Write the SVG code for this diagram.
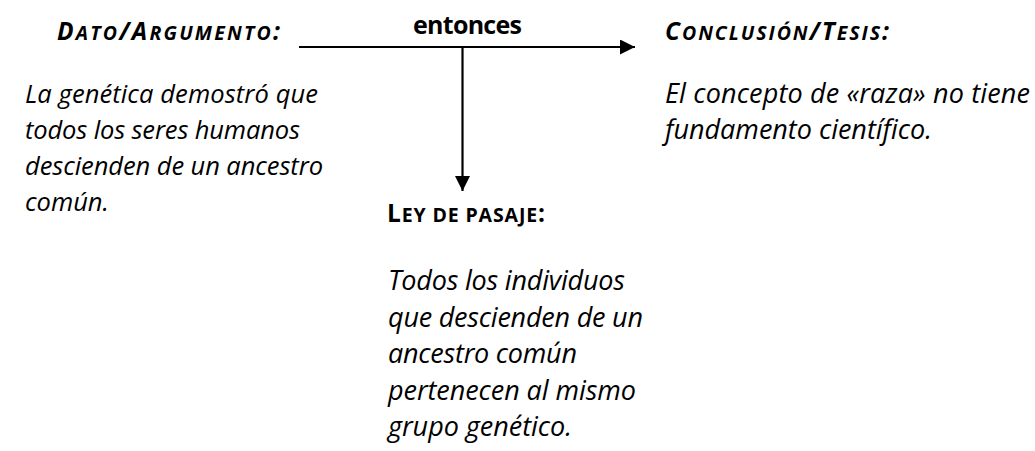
<svg xmlns="http://www.w3.org/2000/svg" width="1035" height="451" viewBox="0 0 1035 451">
<style>
text{font-family:"Open Sans","Noto Sans","Liberation Sans",sans-serif;fill:#000}
.body{font-style:italic}
.l{font-size:25.5px}
.r{font-size:27px}
.p{font-size:27px}
.head{font-size:24.5px;font-weight:bold;font-style:italic}
.sc{font-size:19.5px}
.ley{font-size:24.5px;font-weight:bold}
.ent{font-size:25px;font-weight:bold}
.ln{stroke:#000;stroke-width:2.2;fill:none}
</style>
<defs>
<marker id="ah" viewBox="0 0 10 10" refX="10" refY="5" markerWidth="17" markerHeight="15" markerUnits="userSpaceOnUse" orient="auto">
<path d="M0,0 L10,5 L0,10 z" fill="#000"/>
</marker>
</defs>
<rect width="1035" height="451" fill="#fff"/>
<g id="connectors">
<line class="ln" x1="299" y1="47" x2="635" y2="47" marker-end="url(#ah)"/>
<line class="ln" x1="462.5" y1="47" x2="462.5" y2="191" marker-end="url(#ah)"/>
<text class="ent" x="467.5" y="34" text-anchor="middle" textLength="109" lengthAdjust="spacing">entonces</text>
</g>
<g id="dato">
<text class="head" x="57" y="40" textLength="223" lengthAdjust="spacing">D<tspan class="sc">ATO</tspan>/A<tspan class="sc">RGUMENTO</tspan>:</text>
<text class="body l" x="25" y="103" textLength="293" lengthAdjust="spacing">La genética demostró que</text>
<text class="body l" x="25" y="139" textLength="275" lengthAdjust="spacing">todos los seres humanos</text>
<text class="body l" x="25" y="175" textLength="298" lengthAdjust="spacing">descienden de un ancestro</text>
<text class="body l" x="25" y="211">común.</text>
</g>
<g id="conclusion">
<text class="head" x="665" y="40" textLength="224" lengthAdjust="spacing">C<tspan class="sc">ONCLUSIÓN</tspan>/T<tspan class="sc">ESIS</tspan>:</text>
<text class="body r" x="665" y="103" textLength="365" lengthAdjust="spacing">El concepto de «raza» no tiene</text>
<text class="body r" x="665" y="139" textLength="267" lengthAdjust="spacing">fundamento científico.</text>
</g>
<g id="ley">
<text class="ley" x="387" y="222" textLength="158" lengthAdjust="spacing">L<tspan class="sc">EY DE PASAJE</tspan>:</text>
<text class="body p" x="388" y="290" textLength="237" lengthAdjust="spacing">Todos los individuos</text>
<text class="body p" x="388" y="326.5" textLength="255" lengthAdjust="spacing">que descienden de un</text>
<text class="body p" x="388" y="363" textLength="189" lengthAdjust="spacing">ancestro común</text>
<text class="body p" x="388" y="399.5" textLength="248" lengthAdjust="spacing">pertenecen al mismo</text>
<text class="body p" x="388" y="436" textLength="184" lengthAdjust="spacing">grupo genético.</text>
</g>
</svg>
